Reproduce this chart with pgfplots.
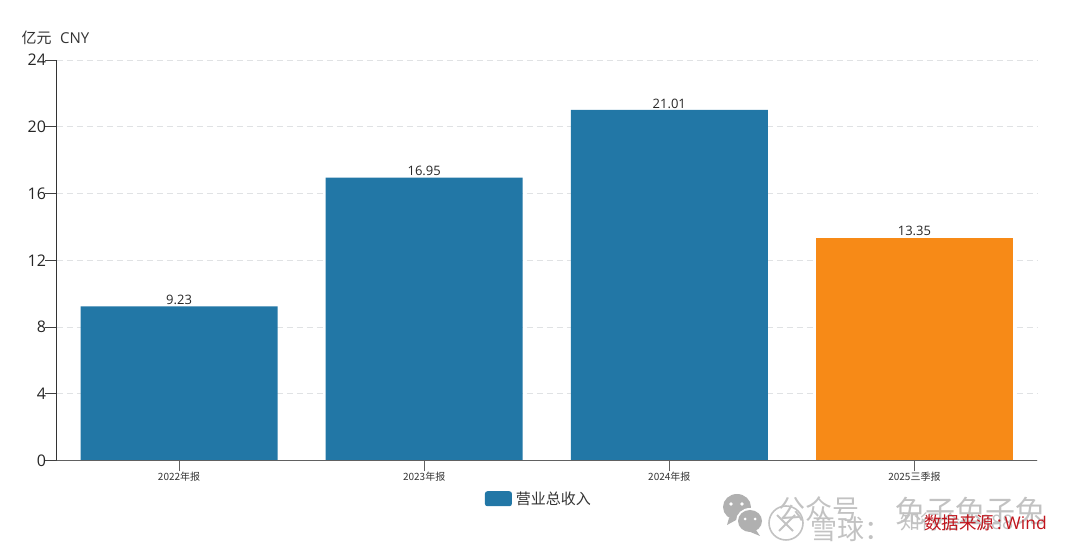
\documentclass[border=0pt]{standalone}
\usepackage{pgfplots}
\usepackage{fontspec}
\pgfplotsset{compat=1.18}
\setmainfont{Open Sans}
\newfontfamily\cjk{Noto Sans CJK SC}
\definecolor{barblue}{HTML}{2277A6}
\definecolor{barorange}{HTML}{F78A17}
\definecolor{gridc}{HTML}{E0E2E4}
\definecolor{txt}{HTML}{333333}
\definecolor{wm}{HTML}{C2C2C2}
\definecolor{wmicon}{HTML}{B0B0B0}
\definecolor{redsrc}{HTML}{C0141C}
\begin{document}
\begin{tikzpicture}[x=1pt,y=1pt]
\path[use as bounding box] (0,0) rectangle (1080,548);
\begin{axis}[
  at={(56.5pt,87.5pt)}, anchor=south west,
  scale only axis, width=980.5pt, height=400.5pt,
  xmin=-0.5, xmax=3.5, ymin=0, ymax=24,
  axis x line=bottom, axis y line=left,
  axis line style={-},
  x axis line style={color=black!62, line width=1pt},
  y axis line style={color=black!80, line width=1pt},
  xtick={0,1,2,3},
  xticklabels={2022年报,2023年报,2024年报,2025三季报},
  ytick={0,4,8,12,16,20,24},
  tick align=outside,
  major tick length=11pt,
  x tick style={color=black!62, line width=0.8pt},
  y tick style={color=black!75, line width=0.8pt},
  xticklabel style={font=\cjk\fontsize{10}{12}\selectfont, text=txt, yshift=2.5pt},
  yticklabel style={font=\fontsize{16}{18}\selectfont, text=black!85, xshift=4pt},
  /pgf/number format/assume math mode=true,
  ymajorgrids,
  grid style={color=gridc, dash pattern=on 6pt off 4pt, line width=0.8pt},
  clip=false,
  ybar, bar width=197pt, bar shift=0pt,
  nodes near coords,
  point meta=explicit symbolic,
  every node near coord/.style={font=\fontsize{13}{15}\selectfont, text=black!85, inner sep=0pt, yshift=6.5pt, anchor=center},
  legend style={at={(0.492,-0.0955)}, anchor=center, draw=none, fill=none, font=\cjk\fontsize{15}{17}\selectfont, text=txt, inner sep=0pt, legend cell align=left},
  legend image code/.code={\fill[barblue, rounded corners=2.5pt] (0pt,-7.5pt) rectangle (27pt,7.5pt);},
]
\addplot[draw=none, fill=barblue] table[x=x, y=y, meta=l] {
x y l
0 9.23 9.23
1 16.95 16.95
2 21.01 21.01
};
\addlegendentry{\hspace{2pt}营业总收入}
\addplot[draw=none, fill=barorange, forget plot] table[x=x, y=y, meta=l] {
x y l
3 13.35 13.35
};
\end{axis}
\draw[black!62, line width=1pt] (56.5,87.5) -- (1037,87.5);
\node[anchor=west, inner sep=0pt, text=txt, font=\fontsize{15}{17}\selectfont] at (21.5,510) {{\cjk 亿元}\hspace{8.5pt}CNY};
% watermark
\fill[wmicon] (737,41) ellipse (14 and 13);
\fill[wmicon] (729,30) -- (727,23) -- (738,29) -- cycle;
\fill[white] (750,27) ellipse (14 and 13);
\fill[wmicon] (750,27) ellipse (12 and 11);
\fill[wmicon] (756,18) -- (760,12) -- (748,17) -- cycle;
\fill[white] (731,44) circle (1.8) (742,44) circle (1.8) (745,29) circle (1.5) (755,29) circle (1.5);
\draw[wm, line width=1.6pt] (786,25) circle (17);
\draw[wm, line width=2pt] (777,33) -- (793,17) (795,33) -- (779,17);
\node[anchor=west, inner sep=0pt, text=wm, font=\cjk\fontsize{27}{29}\selectfont] at (778,39) {公众号};
\node[anchor=west, inner sep=0pt, text=wm, font=\cjk\fontsize{30}{32}\selectfont] at (895,37) {兔子兔子兔};
\node[anchor=west, inner sep=0pt, text=wm, font=\cjk\fontsize{27}{29}\selectfont] at (810,19) {雪球：};
\node[anchor=west, inner sep=0pt, text=wm, font=\cjk\fontsize{20}{22}\selectfont] at (900,26) {知行合一888};
\node[anchor=west, inner sep=0pt, text=redsrc, font=\fontsize{17.5}{19}\selectfont] at (924,25.5) {{\cjk 数据来源}\,:\,Wind};
\end{tikzpicture}
\end{document}
